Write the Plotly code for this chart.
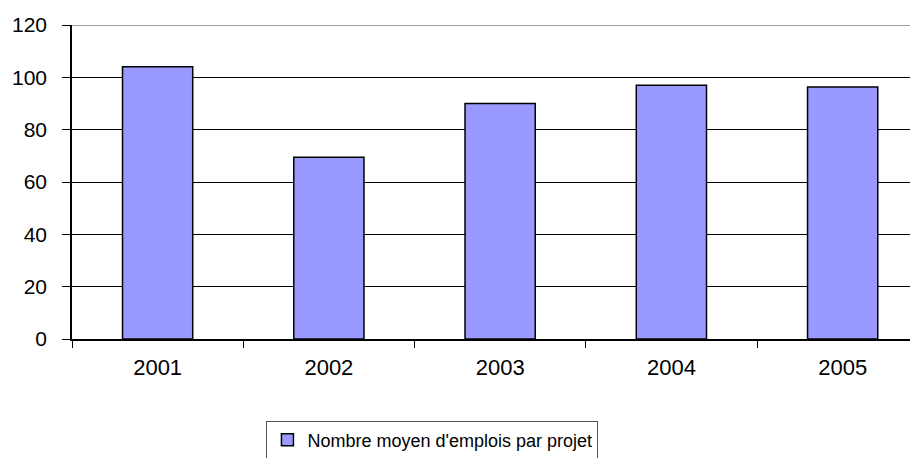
import plotly.graph_objects as go

years = ["2001", "2002", "2003", "2004", "2005"]
emplois = [104, 69.5, 90, 97, 96.3]
series_name = "Nombre moyen d'emplois par projet"

font_family = "Liberation Sans, Arial, sans-serif"

# the page body adds an 8px offset, so the figure is drawn 8px smaller
fig = go.Figure()
fig.add_trace(go.Bar(
    x=years,
    y=emplois,
    name=series_name,
    width=0.41,
    marker=dict(color="#9999FF", line=dict(color="#000000", width=1.5)),
    showlegend=True,
))

fig.update_layout(
    width=910,
    height=450,
    margin=dict(l=64, r=0, t=17, b=119),
    paper_bgcolor="white",
    plot_bgcolor="white",
    font=dict(family=font_family, size=22, color="#000000"),
    showlegend=True,
    legend=dict(
        xref="container", yref="container",
        x=0.284, xanchor="left",
        y=0.083, yanchor="top",
        orientation="h",
        bordercolor="#555555",
        borderwidth=1,
        font=dict(family=font_family, size=18),
    ),
)

fig.update_xaxes(
    type="category",
    range=[-0.5, 4.44],
    automargin=False,
    showline=True, linecolor="#000000", linewidth=1.5,
    ticks="outside", tickson="boundaries", ticklen=7, tickcolor="#000000",
    showgrid=False,
    ticklabelstandoff=8,
    tickfont=dict(size=22),
)

fig.update_yaxes(
    range=[0, 120],
    tickvals=[0, 20, 40, 60, 80, 100, 120],
    automargin=False,
    showline=True, linecolor="#000000", linewidth=1.5,
    ticks="outside", ticklen=8, tickcolor="#000000",
    showgrid=True, gridcolor="#000000", gridwidth=1,
    zeroline=False,
    ticklabelstandoff=11,
    tickfont=dict(size=21),
)

# gray plot-area border along the top
fig.add_shape(type="line", xref="paper", yref="y", x0=0, x1=1, y0=120, y1=120,
              line=dict(color="#A0A0A0", width=2))

fig.write_html("out.html")
